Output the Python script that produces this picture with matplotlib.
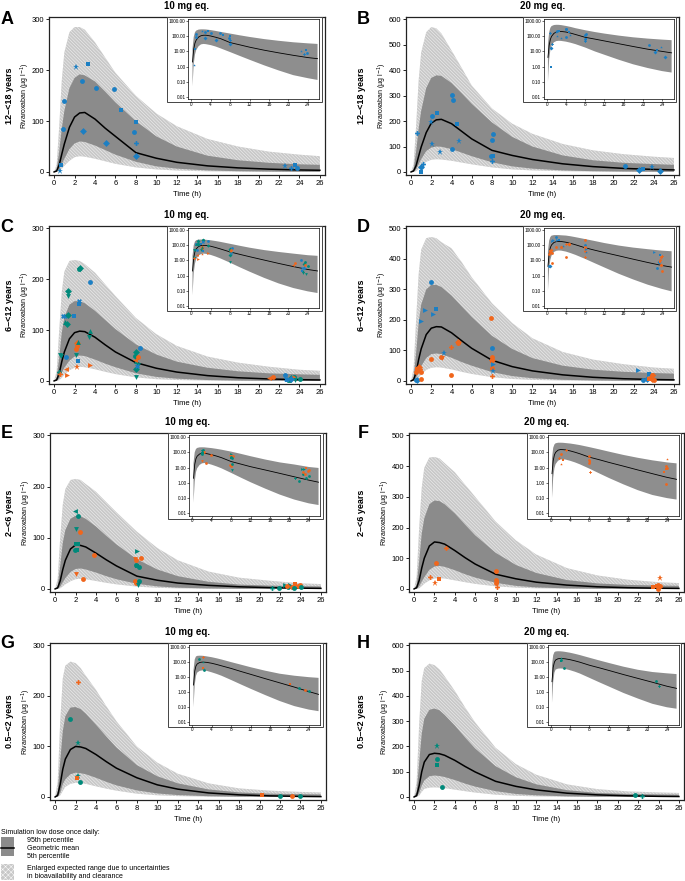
import matplotlib
matplotlib.use("Agg")
import matplotlib.pyplot as plt
from matplotlib.patches import Rectangle
from matplotlib.lines import Line2D
from matplotlib.ticker import NullLocator

plt.rcParams['font.family'] = ['Liberation Sans', 'DejaVu Sans']
plt.rcParams['hatch.linewidth'] = 0.35

# time grid of the simulated curves (h)
T = [0, 0.25, 0.5, 0.75, 1, 1.5, 2, 2.5, 3, 4, 5, 6, 8, 10, 12, 15, 18, 21, 24, 26]

# simulated curves: enlarged upper, 95th, geometric mean, 5th, enlarged lower
A_HI = [0, 15, 90, 180, 235, 275, 285, 285, 280, 255, 225, 195, 150, 115, 90, 65, 50, 40, 34, 31]
A_P95 = [0, 5, 40, 85, 120, 165, 185, 192, 190, 178, 158, 137, 100, 70, 50, 32, 23, 18, 15, 14]
A_MEAN = [0, 2, 14, 35, 55, 88, 108, 116, 117, 104, 86, 70, 38, 27, 19, 12, 8, 5.5, 3.9, 3.3]
A_P5 = [0, 0.5, 5, 15, 26, 45, 56, 60, 59, 52, 43, 34, 20, 11, 6.5, 3, 1.5, 0.8, 0.45, 0.3]
A_LO = [0, 0.05, 1.5, 6, 12, 22, 29, 31, 30, 26, 21, 16, 9, 5, 2.8, 1.2, 0.55, 0.27, 0.17, 0.13]

B_HI = [0, 30, 180, 360, 470, 550, 570, 565, 545, 478, 410, 340, 250, 190, 150, 110, 85, 70, 60, 55]
B_P95 = [0, 10, 80, 170, 240, 330, 370, 380, 378, 350, 310, 268, 195, 138, 100, 65, 46, 36, 31, 28]
B_MEAN = [0, 4, 25, 62, 98, 155, 192, 205, 207, 190, 160, 130, 85, 65, 49, 32, 21, 14, 10, 8]
B_P5 = [0, 1, 10, 30, 50, 82, 96, 100, 99, 90, 76, 62, 38, 22, 13, 6, 3, 1.7, 1, 0.7]
B_LO = [0, 0.1, 3, 12, 24, 40, 48, 50, 49, 44, 37, 30, 18, 10, 6, 2.8, 1.4, 0.8, 0.5, 0.4]

C_HI = [0, 20, 100, 175, 215, 236, 238, 236, 230, 213, 190, 167, 124, 92, 69, 48, 36, 28, 22, 20]
C_P95 = [0, 6, 45, 95, 125, 150, 157, 157, 153, 138, 120, 102, 72, 52, 38, 26, 19, 15, 13, 12]
C_MEAN = [0, 2, 15, 38, 57, 83, 95, 98, 97, 86, 71, 57, 36, 25, 17.5, 10.5, 6.3, 3.9, 2.5, 2.0]
C_P5 = [0, 0.5, 5, 16, 26, 40, 48, 50, 49, 42, 34, 27, 15, 8, 4.5, 1.8, 0.8, 0.4, 0.2, 0.15]
C_LO = [0, 0.05, 1.5, 6, 12, 21, 26, 28, 27, 23, 18, 13.5, 7, 3.5, 1.8, 0.7, 0.3, 0.15, 0.09, 0.07]

D_HI = [0, 40, 200, 350, 430, 468, 472, 468, 455, 435, 390, 340, 255, 190, 140, 95, 70, 55, 44, 40]
D_P95 = [0, 12, 90, 190, 250, 300, 315, 315, 308, 280, 245, 210, 148, 105, 75, 50, 37, 30, 26, 24]
D_MEAN = [0, 4, 28, 70, 105, 152, 173, 178, 177, 158, 132, 107, 68, 47, 33, 20, 12, 7.3, 4.6, 3.6]
D_P5 = [0, 1, 10, 30, 48, 75, 88, 90, 88, 76, 62, 50, 29, 16, 9, 3.8, 1.7, 0.8, 0.45, 0.33]
D_LO = [0, 0.1, 3, 11, 21, 36, 43, 45, 44, 38, 30, 23, 12.5, 6.5, 3.4, 1.3, 0.55, 0.25, 0.13, 0.09]

E_HI = [0, 20, 100, 165, 195, 213, 215, 213, 205, 190, 170, 150, 112, 80, 56, 34, 22, 16, 11, 9.5]
E_P95 = [0, 6, 45, 90, 115, 137, 143, 142, 137, 122, 104, 87, 58, 38, 25, 14, 8.5, 6.5, 5.5, 5]
E_MEAN = [0, 2, 16, 38, 56, 78, 86, 85, 82, 70, 57, 45, 25, 17, 11.5, 7, 4.2, 2.5, 1.5, 1.1]
E_P5 = [0, 0.5, 4.5, 13, 21, 33, 39, 40, 38, 32, 25, 19, 10, 5, 2.5, 0.9, 0.35, 0.15, 0.07, 0.05]
E_LO = [0, 0.05, 1.2, 5, 9, 15, 19, 20, 19, 15.5, 12, 9, 4.5, 2.2, 1.1, 0.42, 0.17, 0.08, 0.045, 0.035]

F_HI = [0, 40, 200, 330, 395, 428, 430, 425, 410, 380, 340, 300, 220, 158, 112, 68, 44, 30, 22, 19]
F_P95 = [0, 12, 90, 180, 230, 276, 288, 286, 276, 246, 210, 175, 118, 78, 52, 29, 18, 13, 11, 10]
F_MEAN = [0, 4, 28, 68, 100, 140, 153, 151, 146, 125, 102, 81, 48, 33, 22, 12.5, 7, 4, 2.3, 1.7]
F_P5 = [0, 1, 8, 24, 38, 62, 73, 75, 72, 61, 48, 37, 20, 10, 5, 1.8, 0.7, 0.3, 0.15, 0.1]
F_LO = [0, 0.1, 2.2, 9, 17, 28, 34, 35, 34, 28, 22, 16.5, 8.5, 4.2, 2.1, 0.8, 0.33, 0.16, 0.1, 0.08]

G_HI = [0, 30, 150, 235, 260, 268, 265, 255, 240, 212, 180, 150, 100, 68, 46, 27, 17, 12.5, 10, 9]
G_P95 = [0, 10, 70, 130, 160, 177, 178, 174, 165, 143, 120, 98, 63, 41, 27, 15, 9, 6.5, 5.5, 5]
G_MEAN = [0, 3, 25, 55, 75, 94, 100, 99, 96, 84, 70, 57, 38, 24, 15.5, 8, 4.2, 2.2, 1.1, 0.72]
G_P5 = [0, 1, 8, 25, 35, 45, 48, 47, 45, 38, 30, 23, 13, 7, 3.8, 1.5, 0.6, 0.25, 0.11, 0.07]
G_LO = [0, 0.1, 3, 12, 20, 26, 28, 27.5, 26, 21, 16.5, 12.5, 6.5, 3.3, 1.7, 0.65, 0.26, 0.12, 0.07, 0.055]

H_HI = [0, 60, 290, 460, 510, 528, 522, 505, 478, 420, 355, 295, 195, 130, 88, 50, 31, 22, 18, 16]
H_P95 = [0, 20, 135, 250, 310, 345, 350, 343, 325, 283, 236, 192, 122, 78, 50, 27, 16, 12, 10, 9]
H_MEAN = [0, 5, 45, 100, 138, 168, 173, 171, 165, 145, 121, 99, 62, 42, 28, 15, 8.3, 4.6, 2.5, 1.8]
H_P5 = [0, 2, 15, 45, 65, 82, 85, 83, 79, 67, 53, 41, 23, 12, 6.5, 2.5, 1, 0.45, 0.2, 0.14]
H_LO = [0, 0.2, 5, 20, 32, 37, 38, 37, 35, 29, 23, 17.5, 9, 4.6, 2.4, 0.9, 0.38, 0.17, 0.1, 0.08]

# observed concentrations: time, value, colour code, marker code
A_PT_T = [2.15, 3.35, 2.75, 1.0, 4.05, 5.85, 0.9, 2.8, 5.1, 6.5, 8.05, 7.8, 8.05, 8.05, 0.7, 0.55, 22.6, 23.2, 23.6, 23.8]
A_PT_C = [207, 212, 179, 139, 166, 163, 85, 81, 56, 121, 98, 79, 57, 31, 14, 1.3, 11, 7, 13, 8]
A_PT_COL = "bbbbbbbbbbbbbbbbbbbb"
A_PT_MK = "*soooooDDssoPDs**Pso"

B_PT_T = [0.6, 1.95, 2.1, 2.6, 2.1, 2.9, 4.0, 4.1, 4.55, 4.75, 4.05, 8.1, 8.0, 8.15, 7.9, 8.0,
          1.15, 0.95, 0.95, 21.2, 22.5, 22.9, 23.85, 24.6]
B_PT_C = [155, 196, 219, 232, 110, 79, 303, 285, 188, 121, 91, 151, 125, 63, 61, 45, 31, 18, 1.0, 25, 9, 12, 21, 4]
B_PT_COL = "bbbbbbbbbbbbbbbbbbbbbbbb"
B_PT_MK = "P*os**oos*ooosoPPDsoDs*D"

C_PT_T = [0.5, 0.6, 0.55, 0.7, 1.15, 0.9, 1.05, 1.05, 1.35, 1.3, 1.35, 1.35, 1.2, 1.3, 1.95, 2.2, 2.15, 2.25,
          2.1, 2.3, 2.35, 2.25, 2.5, 2.4, 2.4, 2.45, 3.5, 3.5, 3.4, 3.5, 8.0, 7.9, 8.1, 8.0, 8.2, 8.0, 8.0,
          8.45, 8.1, 7.9, 8.2, 21.0, 21.4, 22.6, 22.7, 23.0, 23.2, 23.5, 23.0, 22.8, 23.4, 23.6, 24.1, 23.2]
C_PT_C = [18, 14, 52, 50, 47, 128, 128, 116, 130, 112, 167, 177, 24, 12, 128, 69, 62, 75, 52, 77, 40, 28,
          223, 220, 157, 152, 194, 98, 86, 32, 57, 50, 46, 40, 32, 24, 8, 65, 30, 41, 48, 5, 7, 11, 3, 2, 6,
          8, 1.5, 2, 5, 1.3, 4, 3]
C_PT_COL = "goggbbbggggg" + "oobooogg" + "boggbbb" + "ggo" + "ggggggg" + "bboo" + "oobb" + "gggg" + "bogg" + "b"
C_PT_MK = "PPvvoXX^DDvD" + "<>sooDv^" + "s*DoXso" + "^v>" + "Dos^vDv" + "oX<o" + "<ooX" + "^Dov" + "sovo" + "D"

D_PT_T = [0.45, 0.6, 0.5, 0.7, 0.8, 0.9, 1.0, 0.6, 1.0, 1.0, 1.4, 2.15, 2.5, 2.0, 1.95, 3.1, 3.0, 3.3,
          3.95, 3.95, 4.6, 4.65, 8.0, 7.95, 8.0, 8.0, 8.0, 8.0, 8.0, 8.1, 8.1, 22.4, 22.9, 23.3, 23.5, 23.6,
          23.8, 24.0, 23.8, 23.9, 23.5]
D_PT_C = [4, 4, 28, 35, 45, 38, 30, 40, 7, 198, 234, 220, 235, 326, 71, 75, 80, 93, 18, 112, 129, 124,
          107, 207, 80, 70, 65, 42, 16, 55, 34, 36, 3, 8, 22, 10, 18, 2, 5, 19, 8]
D_PT_COL = "bb" + "ooooooo" + "bbbbb" + "ooo" + "b" + "oooo" + "b" + "oooooo" + "bb" + "bbbb" + "oooooo"
D_PT_MK = "oDooDPos" + "o>>>so" + "ovo*oPDo" + "oooDsoP" + ">*>oDs" + "oooDPs"

E_PT_T = [1.95, 2.2, 2.0, 2.45, 2.0, 2.25, 2.1, 1.95, 2.0, 2.75, 3.8, 8.0, 7.8, 7.95, 8.4, 7.9, 8.0, 8.2,
          7.8, 7.95, 8.25, 8.1, 21.2, 21.9, 22.5, 22.8, 23.0, 23.2, 23.5, 23.8, 24.0, 23.4, 24.1, 22.7]
E_PT_C = [152, 143, 117, 111, 88, 87, 77, 76, 29, 19, 66, 74, 58, 56, 61, 47, 45, 42, 15, 12, 16, 7, 2,
          1.3, 8, 4, 8, 4, 9, 6, 7, 2, 3, 5]
E_PT_COL = "gggo" + "gggg" + "ooo" + "g" + "ooo" + "ggg" + "oo" + "gg" + "ggggg" + "oooo" + "gg" + "o"
E_PT_MK = "<ovosssovoo>" + "vooosoooov" + "Po>o>" + "osooooo"

F_PT_T = [1.6, 2.1, 2.15, 2.45, 3.15, 8.0, 8.0, 8.1, 8.0, 8.1, 24.1, 23.5, 23.9, 24.1, 23.9, 23.8]
F_PT_C = [40, 18, 84, 32, 134, 57, 30, 22, 20, 5.5, 35, 5, 12, 10, 0.8, 8]
F_PT_COL = "oooooooooooooooo"
F_PT_MK = "P*osPoosoP*sooos"

G_PT_T = [2.2, 1.45, 2.2, 2.2, 2.15, 2.4, 20.2, 22.0, 23.2, 24.0]
G_PT_C = [228, 154, 106, 41, 38, 30, 3.5, 1.8, 1.5, 1.2]
G_PT_COL = "ogggogogog"
G_PT_MK = "Po**sosooo"

H_PT_T = [2.2, 2.2, 2.2, 2.7, 21.7, 22.4]
H_PT_C = [200, 149, 125, 38, 6, 2.5]
H_PT_COL = "gggggg"
H_PT_MK = "*osooP"

ROW_LABELS = ['12\u2013<18 years', '6\u2013<12 years', '2\u2013<6 years', '0.5\u2013<2 years']
DOSE_TITLES = ['10 mg eq.', '20 mg eq.']
LETTERS = ['A', 'B', 'C', 'D', 'E', 'F', 'G', 'H']
YMAX = [300, 600, 300, 500, 300, 500, 300, 600]

COLORS = {'b': '#1c7fc3', 'o': '#f0661c', 'g': '#00897a'}
W, H = 685, 881

fig = plt.figure(figsize=(W / 100, H / 100), dpi=100)


def fbox(left, top, width, height):
    # pixel box (top-left origin) -> figure fraction rect
    return [left / W, 1 - (top + height) / H, width / W, height / H]


def draw_panel(box, title, ymax, curves, pts):
    hi, p95, mean, p5, lo = curves
    ts, cs, cols, mks = pts
    left, right, top, bottom = box
    w, h = right - left, bottom - top
    ax = fig.add_axes(fbox(left, top, w, h), zorder=1)
    ax.fill_between(T, lo, hi, facecolor='#c8c8c8', edgecolor='#f4f4f4',
                    hatch='\\\\\\\\\\\\\\\\\\\\', linewidth=0)
    ax.fill_between(T, p5, p95, facecolor='#8b8b8b', linewidth=0)
    ax.plot(T, mean, color='black', lw=1.1)
    for t, c, col, mk in zip(ts, cs, cols, mks):
        ms = 4.6 if mk == '*' else 3.5
        ax.plot(t, c, ls='none', marker=mk, ms=ms, color=COLORS[col], mew=0, zorder=3)
    ax.set_xlim(-0.5, 26.5)
    ax.set_ylim(-ymax * 0.02, ymax * 1.016)
    ax.set_xticks(range(0, 27, 2))
    ax.set_yticks(range(0, ymax + 1, 100))
    ax.tick_params(labelsize=5.5, length=2, width=0.6, pad=1.5)
    for s in ax.spines.values():
        s.set_linewidth(0.9)
        s.set_color('#222222')
    ax.set_title(title, fontsize=7, fontweight='bold', pad=6)
    ax.set_xlabel('Time (h)', fontsize=5.5)
    ax.xaxis.set_label_coords(0.5, -0.1)
    fig.text((left - 24) / W, 1 - (top + h / 2) / H, 'Rivaroxaban (\u00b5g l$^{-1}$)', fontsize=5,
             rotation=90, ha='center', va='center')

    # framed inset on log scale
    fig.add_artist(Rectangle(((left + 0.428 * w) / W, 1 - (top + 0.538 * h) / H), 0.561 * w / W,
                             0.535 * h / H, transform=fig.transFigure, facecolor='white',
                             edgecolor='#444444', lw=0.7, zorder=2))
    ins = fig.add_axes(fbox(left + 0.505 * w, top + 0.015 * h, 0.475 * w, 0.505 * h), zorder=3)
    ins.set_yscale('log')
    ins.fill_between(T[1:], lo[1:], hi[1:], facecolor='#8e8e8e', linewidth=0, zorder=1)
    ins.plot(T[1:], mean[1:], color='black', lw=0.6, zorder=2)
    for t, c, col, mk in zip(ts, cs, cols, mks):
        ins.plot(t, c, ls='none', marker=mk, ms=2.0, color=COLORS[col], mew=0, zorder=3)
    ins.set_xlim(-0.6, 26.4)
    ins.set_ylim(0.007, 1300)
    ins.set_xticks(range(0, 25, 4))
    ins.set_yticks([1000, 100, 10, 1, 0.1, 0.01])
    ins.set_yticklabels(['1000.00', '100.00', '10.00', '1.00', '0.10', '0.01'])
    ins.yaxis.set_minor_locator(NullLocator())
    ins.tick_params(labelsize=3.4, length=1.2, width=0.4, pad=0.8)
    for s in ins.spines.values():
        s.set_linewidth(0.5)
    return ax, ins


CURVES = [
    (A_HI, A_P95, A_MEAN, A_P5, A_LO), (B_HI, B_P95, B_MEAN, B_P5, B_LO),
    (C_HI, C_P95, C_MEAN, C_P5, C_LO), (D_HI, D_P95, D_MEAN, D_P5, D_LO),
    (E_HI, E_P95, E_MEAN, E_P5, E_LO), (F_HI, F_P95, F_MEAN, F_P5, F_LO),
    (G_HI, G_P95, G_MEAN, G_P5, G_LO), (H_HI, H_P95, H_MEAN, H_P5, H_LO),
]
POINTS = [
    (A_PT_T, A_PT_C, A_PT_COL, A_PT_MK), (B_PT_T, B_PT_C, B_PT_COL, B_PT_MK),
    (C_PT_T, C_PT_C, C_PT_COL, C_PT_MK), (D_PT_T, D_PT_C, D_PT_COL, D_PT_MK),
    (E_PT_T, E_PT_C, E_PT_COL, E_PT_MK), (F_PT_T, F_PT_C, F_PT_COL, F_PT_MK),
    (G_PT_T, G_PT_C, G_PT_COL, G_PT_MK), (H_PT_T, H_PT_C, H_PT_COL, H_PT_MK),
]

row_tb = [(17, 175), (226, 384), (433, 592), (643, 800)]
col_lr = [[(49, 325), (406, 679)], [(49, 325), (406, 679)], [(50, 326), (409, 684)], [(50, 326), (409, 684)]]
letter_y = [19, 227, 433, 644]

for i in range(8):
    r, c = divmod(i, 2)
    top, bottom = row_tb[r]
    left, right = col_lr[r][c]
    draw_panel((left, right, top, bottom), DOSE_TITLES[c], YMAX[i], CURVES[i], POINTS[i])
    fig.text((7 if c == 0 else 363) / W, 1 - letter_y[r] / H, LETTERS[i], fontsize=13, fontweight='bold',
             ha='center', va='center')
    fig.text((10 if c == 0 else 362) / W, 1 - (top + bottom) / 2 / H, ROW_LABELS[r], fontsize=6.5,
             fontweight='bold', rotation=90, ha='center', va='center')

# legend
fig.text(1 / W, 1 - 833 / H, 'Simulation low dose once daily:', fontsize=5, va='center')
fig.add_artist(Rectangle(fbox(1, 837, 13, 19)[:2], 13 / W, 19 / H, transform=fig.transFigure,
                         facecolor='#8b8b8b', edgecolor='none'))
fig.add_artist(Line2D([1 / W, 14 / W], [1 - 847.5 / H, 1 - 847.5 / H], transform=fig.transFigure,
                      color='black', lw=1.1))
fig.text(27 / W, 1 - 840 / H, '95th percentile', fontsize=5, va='center')
fig.text(27 / W, 1 - 848 / H, 'Geometric mean', fontsize=5, va='center')
fig.text(27 / W, 1 - 857 / H, '5th percentile', fontsize=5, va='center')
fig.add_artist(Rectangle(fbox(1, 864, 13, 16)[:2], 13 / W, 16 / H, transform=fig.transFigure,
                         facecolor='#c8c8c8', edgecolor='white', hatch='xxxxxx', lw=0))
fig.text(27 / W, 1 - 869 / H, 'Enlarged expected range due to uncertainties', fontsize=5, va='center')
fig.text(27 / W, 1 - 877 / H, 'in bioavailability and clearance', fontsize=5, va='center')

fig.savefig('out.png', dpi=100)
